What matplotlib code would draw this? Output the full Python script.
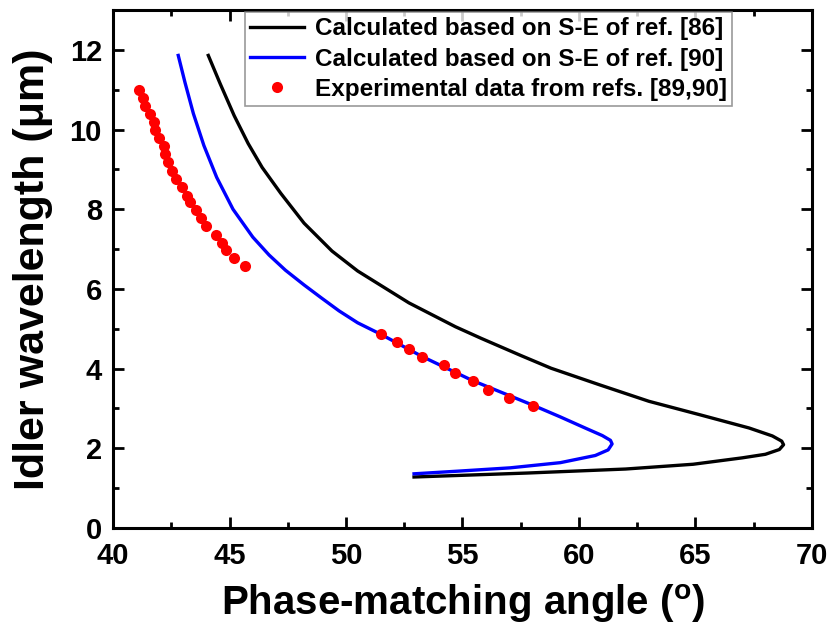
import matplotlib
matplotlib.use("Agg")
import matplotlib.pyplot as plt

plt.rcParams['font.family'] = ['Liberation Sans', 'DejaVu Sans']
plt.rcParams['font.weight'] = 'bold'
plt.rcParams['mathtext.fontset'] = 'custom'
plt.rcParams['mathtext.rm'] = 'Liberation Sans:bold'
plt.rcParams['mathtext.bf'] = 'Liberation Sans:bold'

# Calculated, S-E of ref. [86]
black_x = [44.09, 44.6, 45.2, 45.8, 46.4, 47.2, 48.2, 49.4, 50.5, 51.6, 52.7, 53.7,
           54.7, 55.8, 57.5, 58.8, 60.9, 63.0, 65.2, 67.3, 68.3, 68.7, 68.78, 68.6,
           68.0, 67.0, 64.9, 62.0, 57.8, 52.92]
black_y = [11.86, 11.15, 10.35, 9.65, 9.05, 8.40, 7.65, 6.95, 6.45, 6.05, 5.65, 5.35,
           5.05, 4.76, 4.33, 4.01, 3.59, 3.18, 2.84, 2.51, 2.31, 2.18, 2.09, 1.97,
           1.85, 1.76, 1.60, 1.48, 1.38, 1.28]

# Calculated, S-E of ref. [90]
blue_x = [42.80, 43.09, 43.45, 43.90, 44.45, 45.15, 46.0, 46.7, 47.4, 48.2, 48.93,
          49.7, 50.5, 51.5, 53.28, 55.43, 58.03, 59.19, 60.3, 61.0, 61.35, 61.42,
          61.25, 60.7, 59.2, 57.05, 54.9, 52.92]
blue_y = [11.86, 11.18, 10.40, 9.60, 8.80, 8.00, 7.30, 6.85, 6.47, 6.10, 5.78,
          5.45, 5.15, 4.86, 4.30, 3.70, 3.08, 2.79, 2.50, 2.32, 2.20, 2.11,
          1.96, 1.82, 1.64, 1.51, 1.43, 1.36]

# Experimental data from refs. [89,90]
exp_x = [41.1, 41.27, 41.38, 41.6, 41.74, 41.8, 41.97, 42.17, 42.23, 42.38, 42.55,
         42.69, 42.95, 43.16, 43.3, 43.56, 43.77, 44.0, 44.4, 44.66, 44.83, 45.2, 45.68,
         51.52, 52.18, 52.72, 53.28, 54.2, 54.66, 55.43, 56.1, 56.99, 58.03]
exp_y = [10.99, 10.8, 10.6, 10.38, 10.18, 10.0, 9.8, 9.59, 9.38, 9.18, 8.97,
         8.77, 8.55, 8.34, 8.18, 7.98, 7.77, 7.58, 7.36, 7.16, 6.97, 6.78, 6.58,
         4.86, 4.66, 4.48, 4.28, 4.08, 3.88, 3.68, 3.46, 3.26, 3.06]

fig = plt.figure(figsize=(8.28, 6.25), dpi=100)
ax = fig.add_axes([113/828, 1-528/625, (812-113)/828, (528-10)/625])

ax.plot(black_x, black_y, color='black', lw=2.4, label='Calculated based on S-E of ref. [86]')
ax.plot(blue_x, blue_y, color='#0000ff', lw=2.4, label='Calculated based on S-E of ref. [90]')
ax.plot(exp_x, exp_y, 'o', color='#ff0000', ms=8, mec='none',
        label='Experimental data from refs. [89,90]')

ax.set_xlim(40, 70)
ax.set_ylim(0, 13)
ax.set_xticks([40, 45, 50, 55, 60, 65, 70])
ax.set_yticks([0, 2, 4, 6, 8, 10, 12])
ax.set_xticks([42.5, 47.5, 52.5, 57.5, 62.5, 67.5], minor=True)
ax.set_yticks([1, 3, 5, 7, 9, 11], minor=True)
ax.tick_params(which='both', direction='in', top=True, right=True, width=2)
ax.tick_params(which='major', length=8, labelsize=21)
ax.tick_params(axis='x', which='major', pad=10)
ax.tick_params(axis='y', which='major', pad=8)
ax.tick_params(which='minor', length=4.5)
for lab in ax.get_xticklabels() + ax.get_yticklabels():
    lab.set_fontweight('bold')
for s in ax.spines.values():
    s.set_linewidth(2.2)

ax.set_xlabel('Phase-matching angle ($^\\mathrm{o}$)', fontsize=29, fontweight='bold', labelpad=9)
ax.set_ylabel('Idler wavelength (\u03bcm)', fontsize=31, fontweight='bold', labelpad=12)

leg = ax.legend(loc='upper left', bbox_to_anchor=(245/828, 1-12/625),
                bbox_transform=fig.transFigure, fontsize=17.5, frameon=True,
                fancybox=False, edgecolor='#808080', handlelength=2.2,
                borderpad=0.22, labelspacing=0.3, handletextpad=0.45, borderaxespad=0)
leg.get_frame().set_linewidth(1.2)
for t in leg.get_texts():
    t.set_fontweight('bold')

fig.savefig('out.png', dpi=100)
